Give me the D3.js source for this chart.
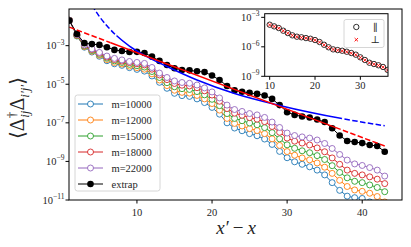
<!DOCTYPE html>
<html><head><meta charset="utf-8">
<script src="https://cdn.jsdelivr.net/npm/d3@7"></script>
<style>
body{margin:0;background:#fff}
svg{display:block}
text{font-family:"Liberation Serif","DejaVu Serif",serif;fill:#262626}
</style>
</head><body>
<svg id="c" width="411" height="247"></svg>
<script>
// ---- data (y values are log10 exponents) ----
const xValues = [1,2,3,4,5,6,7,8,9,10,11,12,13,14,15,16,17,18,19,20,21,22,23,24,25,26,27,28,29,30,31,32,33,34,35,36,37,38,39,40,41,42,43];
const seriesNames = ["m=10000","m=12000","m=15000","m=18000","m=22000"];
const seriesColors = ["#1f77b4","#ff7f0e","#2ca02c","#d62728","#9467bd"];
const m10000 = [-1.69,-2.50,-3.08,-3.33,-3.55,-3.78,-3.94,-4.02,-4.14,-4.23,-4.32,-4.57,-4.90,-5.21,-5.47,-5.59,-5.63,-5.76,-5.95,-6.20,-6.55,-7.00,-7.27,-7.41,-7.56,-7.67,-7.84,-8.12,-8.48,-8.81,-9.02,-9.15,-9.28,-9.45,-9.70,-10.10,-10.50,-10.80,-10.88,-10.92,-11.10,-11.30,-11.60];
const m12000 = [-1.69,-2.48,-3.05,-3.29,-3.50,-3.72,-3.87,-3.95,-4.06,-4.14,-4.22,-4.46,-4.78,-5.07,-5.31,-5.42,-5.46,-5.58,-5.76,-6.00,-6.34,-6.77,-7.03,-7.16,-7.30,-7.40,-7.56,-7.83,-8.17,-8.49,-8.68,-8.82,-8.92,-9.08,-9.30,-9.62,-9.98,-10.30,-10.48,-10.55,-10.65,-10.82,-11.10];
const m15000 = [-1.69,-2.46,-3.02,-3.25,-3.45,-3.65,-3.79,-3.87,-3.97,-4.04,-4.11,-4.34,-4.65,-4.92,-5.13,-5.23,-5.27,-5.38,-5.55,-5.78,-6.11,-6.52,-6.77,-6.89,-7.01,-7.10,-7.25,-7.51,-7.83,-8.14,-8.32,-8.45,-8.55,-8.70,-8.90,-9.22,-9.57,-9.85,-10.03,-10.10,-10.22,-10.35,-10.57];
const m18000 = [-1.69,-2.44,-2.98,-3.20,-3.39,-3.59,-3.72,-3.80,-3.88,-3.94,-4.00,-4.22,-4.52,-4.76,-4.96,-5.05,-5.09,-5.18,-5.34,-5.56,-5.88,-6.26,-6.50,-6.61,-6.73,-6.81,-6.94,-7.19,-7.49,-7.79,-7.95,-8.05,-8.15,-8.30,-8.50,-8.82,-9.15,-9.45,-9.62,-9.70,-9.80,-9.92,-10.15];
const m22000 = [-1.69,-2.42,-2.96,-3.17,-3.35,-3.54,-3.66,-3.74,-3.82,-3.87,-3.92,-4.13,-4.42,-4.65,-4.83,-4.91,-4.95,-5.04,-5.19,-5.40,-5.71,-6.08,-6.31,-6.41,-6.52,-6.59,-6.72,-6.96,-7.24,-7.53,-7.66,-7.73,-7.79,-7.89,-8.07,-8.33,-8.64,-8.93,-9.13,-9.21,-9.32,-9.45,-9.76];
const extrap = [-1.70,-2.39,-2.87,-2.92,-2.96,-3.08,-3.22,-3.28,-3.33,-3.32,-3.38,-3.57,-3.79,-4.00,-4.17,-4.26,-4.28,-4.33,-4.37,-4.55,-4.78,-5.09,-5.32,-5.39,-5.45,-5.50,-5.58,-5.76,-6.08,-6.45,-6.59,-6.67,-6.72,-6.83,-6.96,-7.28,-7.66,-7.94,-7.99,-8.05,-8.15,-8.20,-8.50];
// fit curves; solid between the two break points
const redFitX = [1, 6.5, 36.5, 43];
const redFitLog = [-2.04, -2.85, -7.25, -8.20];
const redFitSolid = [6.5, 36.5];
const blueFitX = [4, 5, 6, 7.3, 9, 11, 14, 18, 23, 29, 37.3, 43];
const blueFitLog = [-0.90, -1.49, -1.97, -2.49, -3.02, -3.50, -4.08, -4.78, -5.48, -6.10, -6.78, -7.15];
const blueFitSolid = [7.3, 37.3];
// inset
const insetX = [10,11,12,13,14,15,16,17,18,19,20,21,22,23,24,25,26,27,28,29,30,31,32,33,34,35,36];
const insetPar = [-3.75,-3.92,-4.09,-4.36,-4.60,-4.83,-4.97,-5.03,-5.11,-5.18,-5.31,-5.51,-5.79,-6.05,-6.26,-6.33,-6.40,-6.50,-6.63,-6.80,-7.07,-7.34,-7.62,-7.75,-7.88,-8.05,-8.35];
const insetPerp = [-3.77,-3.93,-4.11,-4.37,-4.62,-4.84,-4.98,-5.05,-5.12,-5.20,-5.33,-5.53,-5.80,-6.07,-6.27,-6.35,-6.42,-6.51,-6.65,-6.82,-7.09,-7.36,-7.63,-7.77,-7.90,-8.07,-8.37];
const mainXTicks = [10,20,30,40];
const mainYTicks = [-3,-5,-7,-9,-11];
const insetXTicks = [10,20,30];
const insetYTicks = [-3,-6,-9];

const seriesData = [m10000, m12000, m15000, m18000, m22000];

const svg = d3.select("#c");
const M = {l:69, r:402, t:9, b:200};
const x = d3.scaleLinear().domain([0.95, 45.3]).range([M.l, M.r]);
const y = d3.scaleLog().domain([1e-11, Math.pow(10,-1.1)]).range([M.b, M.t]);

const defs = svg.append("defs");
defs.append("clipPath").attr("id","mainclip").append("rect")
  .attr("x",M.l).attr("y",M.t).attr("width",M.r-M.l).attr("height",M.b-M.t);

const plot = svg.append("g").attr("clip-path","url(#mainclip)");
const lineGen = d3.line().x(d=>x(d[0])).y(d=>y(Math.pow(10,d[1])));

seriesData.forEach((s,i)=>{
  const pts = xValues.map((xv,j)=>[xv,s[j]]);
  const g = plot.append("g");
  g.append("path").attr("d",lineGen(pts)).attr("fill","none")
    .attr("stroke",seriesColors[i]).attr("stroke-width",1);
  g.selectAll("circle").data(pts).join("circle")
    .attr("cx",d=>x(d[0])).attr("cy",d=>y(Math.pow(10,d[1]))).attr("r",3)
    .attr("fill","#fff").attr("stroke",seriesColors[i]).attr("stroke-width",0.9);
});

// extrap
{
  const pts = xValues.map((xv,j)=>[xv,extrap[j]]);
  plot.append("path").attr("d",lineGen(pts)).attr("fill","none").attr("stroke","#000").attr("stroke-width",1);
  plot.selectAll("circle.ex").data(pts).join("circle").attr("class","ex")
    .attr("cx",d=>x(d[0])).attr("cy",d=>y(Math.pow(10,d[1]))).attr("r",3.3).attr("fill","#000");
}

// fit curves
function drawFit(xs, ls, solid, color, curve){
  const pts = xs.map((xv,j)=>[xv,ls[j]]);
  const gen = d3.line().x(d=>x(d[0])).y(d=>y(Math.pow(10,d[1]))).curve(curve);
  const d = gen(pts);
  const id = "fc"+color.replace("#","");
  const ranges = [[xs[0]-1, solid[0], true],[solid[0], solid[1], false],[solid[1], xs[xs.length-1]+1, true]];
  ranges.forEach((r,k)=>{
    const cid = id+k;
    defs.append("clipPath").attr("id",cid).append("rect")
      .attr("x",x(r[0])).attr("y",0).attr("width",x(r[1])-x(r[0])).attr("height",247);
    plot.append("g").attr("clip-path","url(#"+cid+")").append("path")
      .attr("d",d).attr("fill","none").attr("stroke",color).attr("stroke-width",1.5)
      .attr("stroke-dasharray", r[2] ? "5.5,2.4" : null);
  });
}
drawFit(blueFitX, blueFitLog, blueFitSolid, "#0000ff", d3.curveMonotoneX);
drawFit(redFitX, redFitLog, redFitSolid, "#ff0000", d3.curveLinear);

// frame
svg.append("rect").attr("x",M.l).attr("y",M.t).attr("width",M.r-M.l).attr("height",M.b-M.t)
  .attr("fill","none").attr("stroke","#000").attr("stroke-width",1);

function powLabel(sel, xPos, yPos, exp, anchor){
  const t = sel.append("text").attr("x",xPos).attr("y",yPos).attr("text-anchor",anchor).attr("font-size",10.5);
  t.append("tspan").text("10");
  t.append("tspan").attr("dy",-4.5).attr("font-size",7.5).text("\u2212"+Math.abs(exp));
  return t;
}

// main axes ticks
mainXTicks.forEach(v=>{
  svg.append("line").attr("x1",x(v)).attr("x2",x(v)).attr("y1",M.b).attr("y2",M.b+3.5).attr("stroke","#000").attr("stroke-width",1);
  svg.append("text").attr("x",x(v)).attr("y",M.b+16).attr("text-anchor","middle").attr("font-size",10.5).text(v);
});
mainYTicks.forEach(e=>{
  const yy = y(Math.pow(10,e));
  svg.append("line").attr("x1",M.l-3.5).attr("x2",M.l).attr("y1",yy).attr("y2",yy).attr("stroke","#000").attr("stroke-width",1);
  powLabel(svg, 64.5, yy+3.5, e, "end");
});

// axis titles
{
  const t = svg.append("text").attr("x",236).attr("y",234).attr("text-anchor","middle").attr("font-size",19)
    .attr("font-style","italic");
  t.append("tspan").text("x\u2032");
  t.append("tspan").attr("font-style","normal").attr("dx",4).text("\u2212");
  t.append("tspan").attr("dx",4).text("x");
}
{
  const t = svg.append("text").attr("transform","translate(24,108) rotate(-90)").attr("text-anchor","middle").attr("font-size",20);
  t.append("tspan").text("\u27E8\u0394");
  t.append("tspan").attr("font-size",13).attr("dy",-8).text("\u2020");
  t.append("tspan").attr("font-size",13).attr("font-style","italic").attr("dx",-6).attr("dy",13).text("ij");
  t.append("tspan").attr("dy",-5).text("\u0394");
  t.append("tspan").attr("font-size",13).attr("font-style","italic").attr("dy",5).text("i\u2032j\u2032");
  t.append("tspan").attr("dy",-5).text("\u27E9");
}

// legend
{
  const lg = svg.append("g");
  lg.append("rect").attr("x",75).attr("y",95).attr("width",85).attr("height",96).attr("rx",2.5)
    .attr("fill","#fff").attr("fill-opacity",0.8).attr("stroke","#cccccc").attr("stroke-width",0.8);
  const names = seriesNames.concat(["extrap"]);
  const cols = seriesColors.concat(["#000"]);
  names.forEach((n,i)=>{
    const yy = 104 + i*16;
    lg.append("line").attr("x1",78).attr("x2",103).attr("y1",yy).attr("y2",yy).attr("stroke",cols[i]).attr("stroke-width",1);
    if(i<5) lg.append("circle").attr("cx",90.5).attr("cy",yy).attr("r",3).attr("fill","#fff").attr("stroke",cols[i]).attr("stroke-width",0.9);
    else lg.append("circle").attr("cx",90.5).attr("cy",yy).attr("r",3.3).attr("fill","#000");
    lg.append("text").attr("x",111.5).attr("y",yy+3.5).attr("font-size",10.5).text(n);
  });
}

// inset
{
  const I = {l:264.7, r:388, t:13.7, b:76.3};
  const ix = d3.scaleLinear().domain([8.9, 36.1]).range([I.l, I.r]);
  const iy = d3.scaleLog().domain([1e-9, Math.pow(10,-2.63)]).range([I.b, I.t]);
  svg.append("rect").attr("x",I.l).attr("y",I.t).attr("width",I.r-I.l).attr("height",I.b-I.t).attr("fill","#fff");
  defs.append("clipPath").attr("id","insclip").append("rect")
    .attr("x",I.l).attr("y",I.t).attr("width",I.r-I.l).attr("height",I.b-I.t);
  const ig = svg.append("g").attr("clip-path","url(#insclip)");
  ig.selectAll("circle").data(insetX.map((v,j)=>[v,insetPar[j]])).join("circle")
    .attr("cx",d=>ix(d[0])).attr("cy",d=>iy(Math.pow(10,d[1]))).attr("r",2.7)
    .attr("fill","none").attr("stroke","#000").attr("stroke-width",0.8);
  const cross = (g,cx,cy,s)=>{
    g.append("path").attr("d",`M${cx-s},${cy-s}L${cx+s},${cy+s}M${cx-s},${cy+s}L${cx+s},${cy-s}`)
      .attr("stroke","#ff0000").attr("stroke-width",0.9);
  };
  insetX.forEach((v,j)=>cross(ig, ix(v), iy(Math.pow(10,insetPerp[j])), 1.7));
  svg.append("rect").attr("x",I.l).attr("y",I.t).attr("width",I.r-I.l).attr("height",I.b-I.t)
    .attr("fill","none").attr("stroke","#000").attr("stroke-width",1);
  insetXTicks.forEach(v=>{
    svg.append("line").attr("x1",ix(v)).attr("x2",ix(v)).attr("y1",I.b).attr("y2",I.b+3.5).attr("stroke","#000");
    svg.append("text").attr("x",ix(v)).attr("y",I.b+12.5).attr("text-anchor","middle").attr("font-size",10.5).text(v);
  });
  insetYTicks.forEach(e=>{
    const yy = iy(Math.pow(10,e));
    svg.append("line").attr("x1",I.l-3.5).attr("x2",I.l).attr("y1",yy).attr("y2",yy).attr("stroke","#000");
    powLabel(svg, 259.5, yy+3.5, e, "end");
  });
  // inset legend
  svg.append("rect").attr("x",344).attr("y",19.5).attr("width",40).attr("height",28).attr("rx",2)
    .attr("fill","#fff").attr("fill-opacity",0.8).attr("stroke","#cccccc").attr("stroke-width",0.8);
  svg.append("circle").attr("cx",356.3).attr("cy",27).attr("r",2.7).attr("fill","none").attr("stroke","#000").attr("stroke-width",0.8);
  cross(svg, 356.3, 39.7, 1.7);
  svg.append("text").attr("x",375.3).attr("y",30.5).attr("text-anchor","middle").attr("font-size",10).attr("fill","#555").text("\u2225");
  svg.append("text").attr("x",375.3).attr("y",43.2).attr("text-anchor","middle").attr("font-size",10).attr("fill","#555").text("\u22A5");
}
</script>
</body></html>
